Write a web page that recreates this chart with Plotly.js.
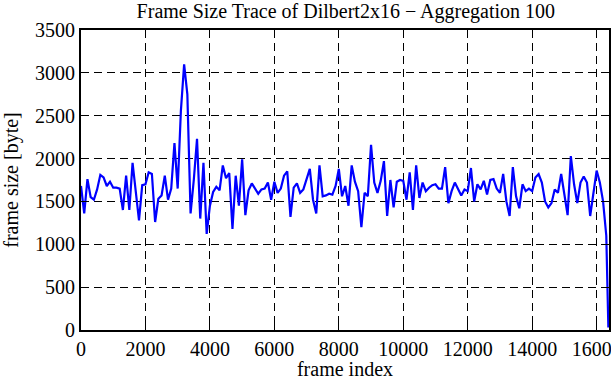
<!DOCTYPE html>
<html>
<head>
<meta charset="utf-8">
<script src="https://cdn.plot.ly/plotly-3.0.1.min.js"></script>
<style>html,body{margin:0;padding:0;background:#fff;}#chart{width:611px;height:380px;}</style>
</head>
<body>
<div id="chart"></div>
<script>
// frame index of each aggregated point (aggregation 100)
const frameIndex = [
  0,100,200,300,400,500,600,700,800,900,1000,1100,1200,1300,1400,1500,1600,1700,1800,1900,
  2000,2100,2200,2300,2400,2500,2600,2700,2800,2900,3000,3100,3200,3300,3400,3500,3600,3700,3800,3900,
  4000,4100,4200,4300,4400,4500,4600,4700,4800,4900,5000,5100,5200,5300,5400,5500,5600,5700,5800,5900,
  6000,6100,6200,6300,6400,6500,6600,6700,6800,6900,7000,7100,7200,7300,7400,7500,7600,7700,7800,7900,
  8000,8100,8200,8300,8400,8500,8600,8700,8800,8900,9000,9100,9200,9300,9400,9500,9600,9700,9800,9900,
  10000,10100,10200,10300,10400,10500,10600,10700,10800,10900,11000,11100,11200,11300,11400,11500,11600,11700,11800,11900,
  12000,12100,12200,12300,12400,12500,12600,12700,12800,12900,13000,13100,13200,13300,13400,13500,13600,13700,13800,13900,
  14000,14100,14200,14300,14400,14500,14600,14700,14800,14900,15000,15100,15200,15300,15400,15500,15600,15700,15800,15900,
  16000,16100,16200,16300,16364
];
// mean frame size [byte] per aggregation window
const frameSize = [
  1680,1360,1760,1550,1520,1640,1810,1780,1680,1730,1660,1660,1650,1400,1800,1400,1950,1600,1280,1690,
  1700,1840,1820,1260,1530,1570,1800,1520,1650,2180,1650,2560,3100,2750,1360,1750,2230,1300,1950,1120,
  1450,1610,1670,1630,1920,1770,1830,1180,1800,1450,1990,1340,1630,1710,1650,1590,1640,1650,1720,1520,
  1730,1600,1650,1800,1850,1320,1660,1710,1600,1640,1760,1880,1520,1360,1920,1560,1570,1590,1580,1680,
  1880,1560,1680,1450,1920,1730,1620,1200,1600,1560,2160,1720,1600,1740,1970,1330,1750,1430,1730,1750,
  1740,1520,1840,1400,1920,1540,1720,1620,1660,1690,1700,1650,1650,1900,1480,1620,1720,1650,1570,1640,
  1620,1890,1500,1700,1640,1740,1580,1750,1760,1650,1600,1820,1500,1330,1900,1560,1420,1700,1620,1650,
  1620,1780,1820,1720,1500,1430,1480,1640,1600,1820,1600,1340,2030,1700,1480,1720,1790,1720,1330,1620,
  1860,1720,1500,1100,30
];
const xTicks = [0,2000,4000,6000,8000,10000,12000,14000,16000];
const yTicks = [0,500,1000,1500,2000,2500,3000,3500];

const font = {family: '"Liberation Serif", "Times New Roman", serif', size: 20, color: '#000'};
const axisCommon = {
  showline: true, linecolor: '#000', linewidth: 2, mirror: 'ticks',
  ticks: 'inside', ticklen: 8, tickwidth: 1, tickcolor: '#000',
  showgrid: true, gridcolor: '#000', gridwidth: 1, griddash: '8px,5px',
  zeroline: false, tickfont: font, ticklabeloverflow: 'allow'
};

Plotly.newPlot('chart', [{
  x: frameIndex, y: frameSize, type: 'scatter', mode: 'lines',
  line: {color: 'rgb(0,0,255)', width: 2.2}, showlegend: false
}], {
  width: 611, height: 380,
  margin: {l: 81, r: 2, t: 30, b: 50},
  paper_bgcolor: '#fff', plot_bgcolor: '#fff',
  font: font,
  title: {text: 'Frame Size Trace of Dilbert2x16 \u2212 Aggregation 100', font: font,
          x: 0.566, xanchor: 'center', y: 0.972, yanchor: 'middle', yref: 'container'},
  xaxis: Object.assign({}, axisCommon, {
    range: [0, 16384], tickvals: xTicks, ticktext: xTicks.map(String),
    title: {text: 'frame index', font: font, standoff: 6}
  }),
  yaxis: Object.assign({}, axisCommon, {
    range: [0, 3500], tickvals: yTicks, ticktext: yTicks.map(String),
    title: {text: 'frame size [byte]', font: font, standoff: 14}
  })
}, {displayModeBar: false, staticPlot: true});
</script>
</body>
</html>
